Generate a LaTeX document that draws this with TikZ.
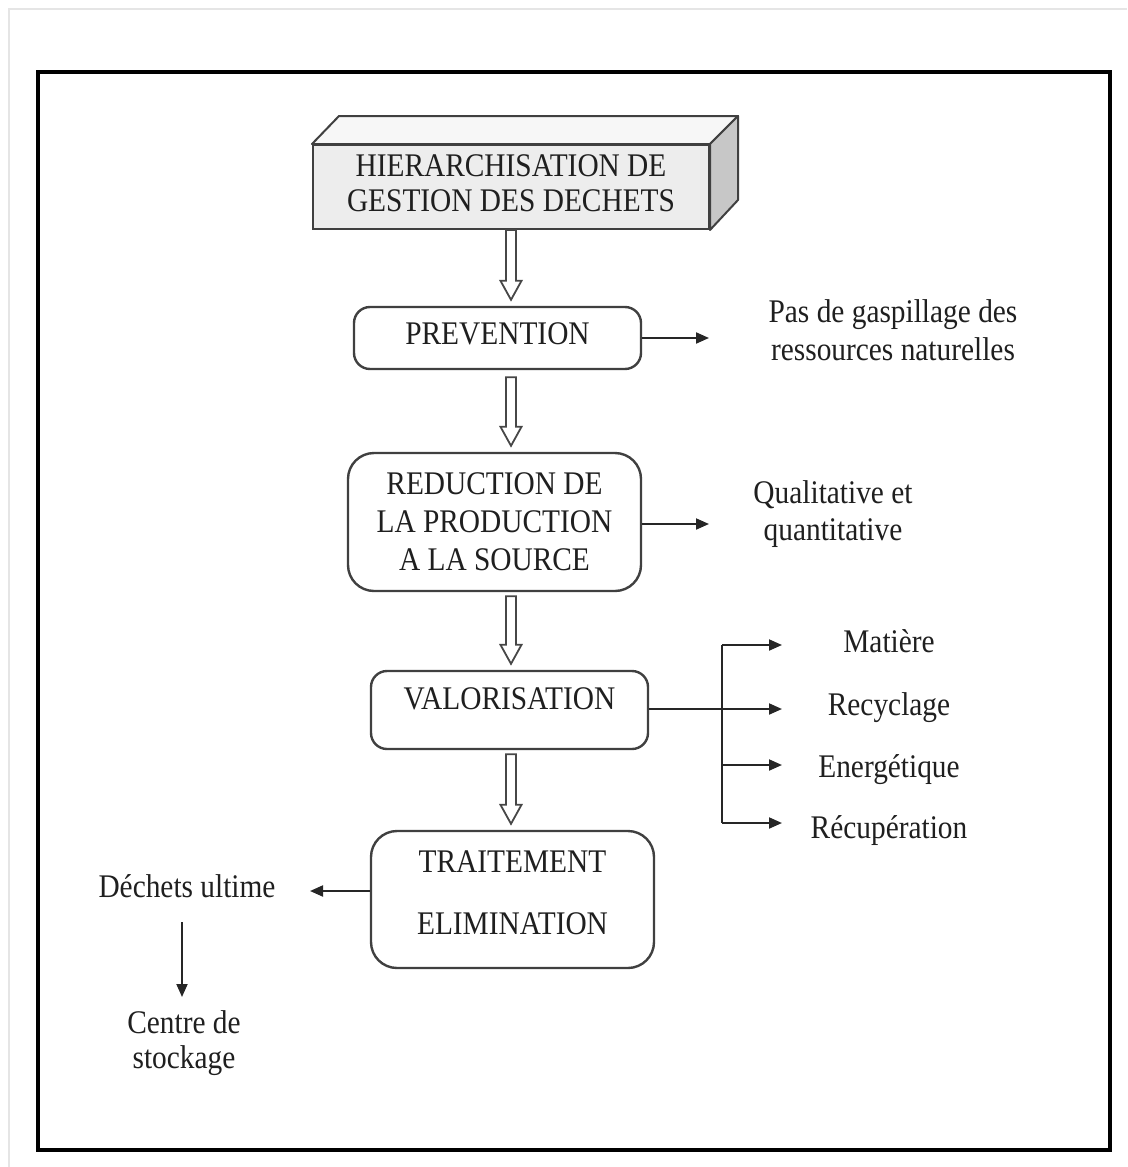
\documentclass[tikz,border=0pt]{standalone}
\usepackage{fontspec}
\setmainfont{Liberation Serif}[FakeStretch=0.89]
\usetikzlibrary{arrows.meta,calc}

% hollow block arrow drawn on the axis of the header box, from one node down to the next
\newcommand\blockarrow[3][4]{%
  \draw[hollow] let \p1=($(hdr.south |- #2.south)+(0,#1)$),
                    \p2=($(hdr.south |- #3.north)+(0,-6)$) in
    (\x1-5pt,\y1) -- (\x1-5pt,\y2+19pt) -- (\x1-10.5pt,\y2+19pt) -- (\x1,\y2)
    -- (\x1+10.5pt,\y2+19pt) -- (\x1+5pt,\y2+19pt) -- (\x1+5pt,\y1) -- cycle;}

\begin{document}
\begin{tikzpicture}[x=1pt,y=-1pt,
  txt/.style={font=\fontsize{33}{38}\selectfont, text=black!88, align=center, inner sep=0pt},
  box/.style={txt, draw=black!75, line width=2.4pt, rounded corners=16pt, fill=white},
  bigbox/.style={box, rounded corners=26pt},
  arr/.style={draw=black!85, line width=2pt, -{Triangle[length=13pt,width=11pt]}},
  bus/.style={draw=black!85, line width=2pt},
  hollow/.style={draw=black!72, line width=1.8pt, fill=white, line join=miter},
  face/.style={draw=black!75, line width=2pt, line join=round}
]
\useasboundingbox (0,0) rectangle (1127,1167);

% sheet edge and frame
\draw[black!10, line width=2pt] (9,1167) -- (9,9) -- (1127,9);
\draw[line width=4.5pt, line join=miter] (38,72) rectangle (1110,1150);

% header block (front face as a node, top and side faces around it)
\node[txt, font=\fontsize{33}{35}\selectfont, draw=black!75, line width=2pt, fill=black!7,
      minimum width=396pt, minimum height=84pt, text depth=7pt] (hdr) at (511,187)
      {HIERARCHISATION DE\\GESTION DES DECHETS};
\filldraw[face, fill=black!3] (hdr.north west) -- ++(27,-28) -- ($(hdr.north east)+(28,-28)$)
      -- (hdr.north east) -- cycle;
\filldraw[face, fill=black!22] (hdr.north east) -- ++(28,-28) -- ($(hdr.south east)+(28,-30)$)
      -- (hdr.south east) -- cycle;

% main chain
\node[box, minimum width=287pt, minimum height=62pt, text depth=8pt] (prev) at (497.5,338) {PREVENTION};
\node[bigbox, minimum width=293pt, minimum height=138pt] (red) at (494.5,522)
      {REDUCTION DE\\LA PRODUCTION\\A LA SOURCE};
\node[box, minimum width=277pt, minimum height=78pt, text depth=22pt] (val) at (509.5,710) {VALORISATION};
\node[bigbox, minimum width=283pt, minimum height=137pt, text depth=13pt] (trt) at (512.5,899.5)
      {TRAITEMENT\\[24pt]ELIMINATION};

\blockarrow[0]{hdr}{prev}
\blockarrow[7]{prev}{red}
\blockarrow[4]{red}{val}
\blockarrow[4]{val}{trt}

% side notes
\node[txt] (prevnote) at (893,330) {Pas de gaspillage des\\ressources naturelles};
\node[txt, font=\fontsize{33}{37}\selectfont] (rednote) at (833,514) {Qualitative et\\quantitative};
\coordinate (pa) at (709,338);
\coordinate (ra) at (709,524);
\draw[arr] (prev.east |- pa) -- (pa);
\draw[arr] (red.east |- ra) -- (ra);

% recovery branches
\node[txt, anchor=base] (mat) at (889,652) {Matière};
\node[txt, anchor=base] (recy) at (889,715) {Recyclage};
\node[txt, anchor=base] (ener) at (889,777) {Energétique};
\node[txt, anchor=base] (recu) at (889,838) {Récupération};
\coordinate (t1) at (782,645);
\coordinate (t2) at (782,709);
\coordinate (t3) at (782,765);
\coordinate (t4) at (782,823);
\coordinate (busx) at (722,709);
\draw[bus] (busx |- t1) -- (busx |- t4);
\draw[arr] (val.east |- t2) -- (t2);
\draw[arr] (busx |- t1) -- (t1);
\draw[arr] (busx |- t3) -- (t3);
\draw[arr] (busx |- t4) -- (t4);

% final waste
\node[txt, anchor=base] (dech) at (187,897) {Déchets ultime};
\node[txt, font=\fontsize{33}{35}\selectfont] (stock) at (184,1043) {Centre de\\stockage};
\coordinate (dtip) at (310,891);
\draw[arr] (trt.west |- dtip) -- (dtip);
\coordinate (s1) at (182,922);
\coordinate (s2) at (182,997);
\draw[arr, line width=1.8pt] (s1) -- (s2);
\end{tikzpicture}
\end{document}
